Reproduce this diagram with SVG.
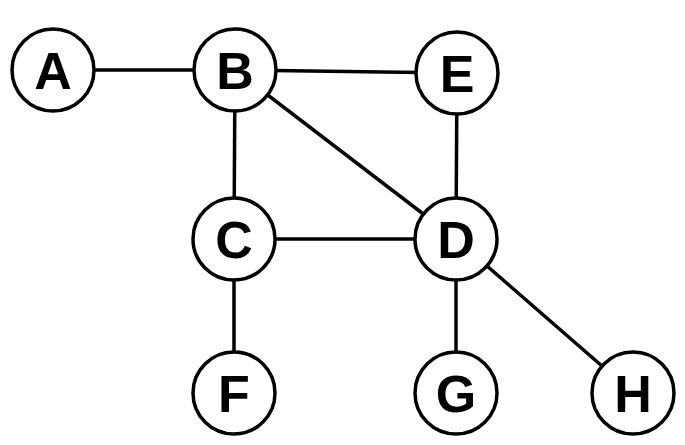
<svg xmlns="http://www.w3.org/2000/svg" width="685" height="445" viewBox="0 0 685 445">
<style>
.n circle{fill:#fff;stroke:#000;stroke-width:3.5}
.n text{font-family:"Liberation Sans",Arial,sans-serif;font-weight:bold;font-size:52px;text-anchor:middle;fill:#000}
#edges line{stroke:#000;stroke-width:3.5}
</style>
<rect width="685" height="445" fill="#fff"/>
<g id="edges">
<line x1="53" y1="70" x2="235" y2="70"/>
<line x1="235" y1="70" x2="457" y2="73"/>
<line x1="235" y1="70" x2="234" y2="239"/>
<line x1="235" y1="70" x2="456" y2="239"/>
<line x1="457" y1="73" x2="456" y2="239"/>
<line x1="234" y1="239" x2="456" y2="239"/>
<line x1="234" y1="239" x2="234" y2="393"/>
<line x1="456" y1="239" x2="456" y2="393"/>
<line x1="456" y1="239" x2="633" y2="393"/>
</g>
<g id="A" class="n"><circle cx="53" cy="70" r="41"/><text x="53" y="89">A</text></g>
<g id="B" class="n"><circle cx="235" cy="70" r="41"/><text x="235" y="89">B</text></g>
<g id="E" class="n"><circle cx="457" cy="73" r="41"/><text x="457" y="92">E</text></g>
<g id="C" class="n"><circle cx="234" cy="239" r="41"/><text x="234" y="258">C</text></g>
<g id="D" class="n"><circle cx="456" cy="239" r="41"/><text x="456" y="258">D</text></g>
<g id="F" class="n"><circle cx="234" cy="393" r="41"/><text x="234" y="412">F</text></g>
<g id="G" class="n"><circle cx="456" cy="393" r="41"/><text x="456" y="412">G</text></g>
<g id="H" class="n"><circle cx="633" cy="393" r="41"/><text x="633" y="412">H</text></g>
</svg>
